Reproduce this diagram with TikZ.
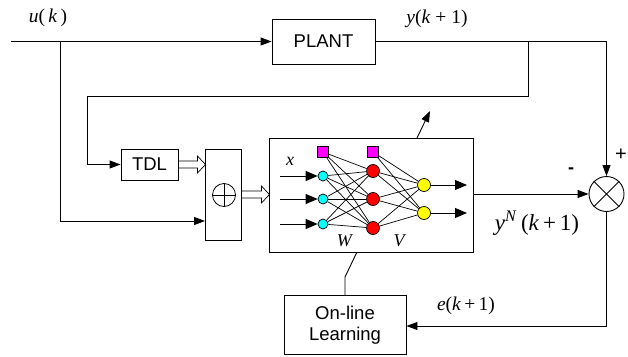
\documentclass[tikz,border=0pt]{standalone}
\usepackage{fontspec}
\setmainfont{Liberation Sans}
\newfontfamily\tnr{Liberation Serif}
\usetikzlibrary{arrows.meta,calc}
\newcommand\mi[1]{\textit{#1}}
\definecolor{nncyan}{RGB}{0,255,255}
\definecolor{nnmag}{RGB}{255,0,255}
\definecolor{nnred}{RGB}{255,0,0}
\definecolor{nnyel}{RGB}{255,255,0}
\tikzset{
  box/.style={draw,line width=0.9pt,inner sep=0pt,font=\fontsize{18.5}{21}\selectfont,align=center},
  arr/.style={line width=0.9pt,-{Triangle[length=11pt,width=8pt]}},
  arrb/.style={line width=0.9pt,-{Triangle[length=12pt,width=10pt]}},
  ln/.style={line width=0.9pt},
  lbl/.style={inner sep=0pt,font=\tnr\fontsize{19.5}{19.5}\selectfont},
  wire/.style={line width=0.7pt},
  sq/.style={draw,line width=0.7pt,fill=nnmag,minimum size=11pt,inner sep=0pt},
  neur/.style={draw,circle,line width=0.7pt,inner sep=0pt,minimum size=#1},
}
\begin{document}
\begin{tikzpicture}[x=1pt,y=-1pt]
\useasboundingbox (0,0) rectangle (628,356);
% blocks
\node[box,minimum width=103pt,minimum height=45pt] (plant) at (323.5,41.5) {PLANT};
\node[box,minimum width=57pt,minimum height=31pt] (tdl) at (149.5,164.5) {TDL};
\node[box,minimum width=36pt,minimum height=91pt] (pbox) at (223,194.5) {};
\node[draw,circle,line width=0.8pt,minimum size=23pt,inner sep=0pt] (oplus) at (224,195) {};
\draw[ln] (oplus.north) -- (oplus.south) (oplus.west) -- (oplus.east);
\node[box,minimum width=204pt,minimum height=114pt] (nn) at (371,195) {};
\node[box,minimum width=122pt,minimum height=59pt] (ol) at (345,325) {On-line\\Learning};
\node[draw,circle,line width=0.9pt,minimum size=35pt,inner sep=0pt] (cir) at (606.5,194) {};
\draw[ln] (cir.north west) -- (cir.south east) (cir.north east) -- (cir.south west);
% coordinates
\coordinate (in) at (11,41.5);
\coordinate (b1) at (60,41.5);
\coordinate (b2) at (528,41.5);
\coordinate (fb1) at (528,96.5);
\coordinate (fb2) at (87,96.5);
\coordinate (u2) at (205,221);
\coordinate (cb) at (606.5,326);
\coordinate (kink) at (345,277);
\coordinate (nnb) at (357,252);
\coordinate (up1) at (417,138);
\coordinate (up2) at (430,111);
% main connectors
\draw[arr] (in) -- (plant);
\draw[arr] (b1) |- (u2);
\draw[arr] (plant.east) -| (cir);
\draw[arr] (b2) -- (fb1) -- (fb2) |- (tdl);
\draw[arr] (nn.east |- cir) -- (cir);
\draw[ln] (cir) -- (cb);
\draw[arr] (cb) -- (cb -| ol.east);
\draw[ln] (nnb) -- (kink) -- (kink |- ol.north);
\draw[arr] (up1) -- (up2);
% hollow arrows
\draw[line width=0.7pt,fill=white] (tdl.east) ++(0,-3.5) -- ++(19,0) -- ++(0,-5) -- ++(8,8.5) -- ++(-8,8.5) -- ++(0,-5) -- ++(-19,0) -- cycle;
\draw[line width=0.7pt,fill=white] (pbox.east) ++(0,-3.5) -- ++(20,0) -- ++(0,-5) -- ++(8,8.5) -- ++(-8,8.5) -- ++(0,-5) -- ++(-20,0) -- cycle;
% neural net
\node[sq] (s1) at (323,152) {};
\node[sq] (s2) at (373,152) {};
\node[neur=10pt,fill=nncyan] (i1) at (323,176) {};
\node[neur=10pt,fill=nncyan] (i2) at (323,199) {};
\node[neur=10pt,fill=nncyan] (i3) at (323,224) {};
\node[neur=13pt,fill=nnred] (h1) at (373,171) {};
\node[neur=13pt,fill=nnred] (h2) at (373,199) {};
\node[neur=13pt,fill=nnred] (h3) at (373,228) {};
\node[neur=13pt,fill=nnyel] (o1) at (424,185) {};
\node[neur=13pt,fill=nnyel] (o2) at (424,213) {};
\foreach \a in {s1,i1,i2,i3}{\foreach \b in {h1,h2,h3}{\draw[wire] (\a) -- (\b);}}
\foreach \a in {s2,h1,h2,h3}{\foreach \b in {o1,o2}{\draw[wire] (\a) -- (\b);}}
\coordinate (x1) at (280,176);
\coordinate (x2) at (280,199);
\coordinate (x3) at (280,224);
\coordinate (y1) at (467,185);
\coordinate (y2) at (467,213);
\draw[arrb] (x1) -- (i1);
\draw[arrb] (x2) -- (i2);
\draw[arrb] (x3) -- (i3);
\draw[arrb] (o1) -- (y1);
\draw[arrb] (o2) -- (y2);
% labels
\node[lbl] (lu) at (48,18) {\mi{u}(\,\mi{k}\,)};
\node[lbl] (ly) at (437,19) {\mi{y}(\mi{k} + 1)};
\node[lbl,font=\tnr\fontsize{23}{23}\selectfont] (lyn) at (537,223) {\mi{y}\textsuperscript{\mi{N}}\,(\mi{k}\,+\,1)};
\node[lbl] (le) at (466,306) {\mi{e}(\mi{k}\,+\,1)};
\node[lbl,font=\tnr\fontsize{18}{18}\selectfont] (lx) at (290,161) {\mi{x}};
\node[lbl,font=\tnr\fontsize{18}{18}\selectfont] (lw) at (345,241) {\mi{W}};
\node[lbl,font=\tnr\fontsize{18}{18}\selectfont] (lv) at (400,241) {\mi{V}};
\node[lbl,font=\fontsize{18}{18}\selectfont\bfseries] (lm) at (571,171) {-};
\node[lbl,font=\fontsize{20}{20}\selectfont] (lp) at (621,155) {+};
\end{tikzpicture}
\end{document}
